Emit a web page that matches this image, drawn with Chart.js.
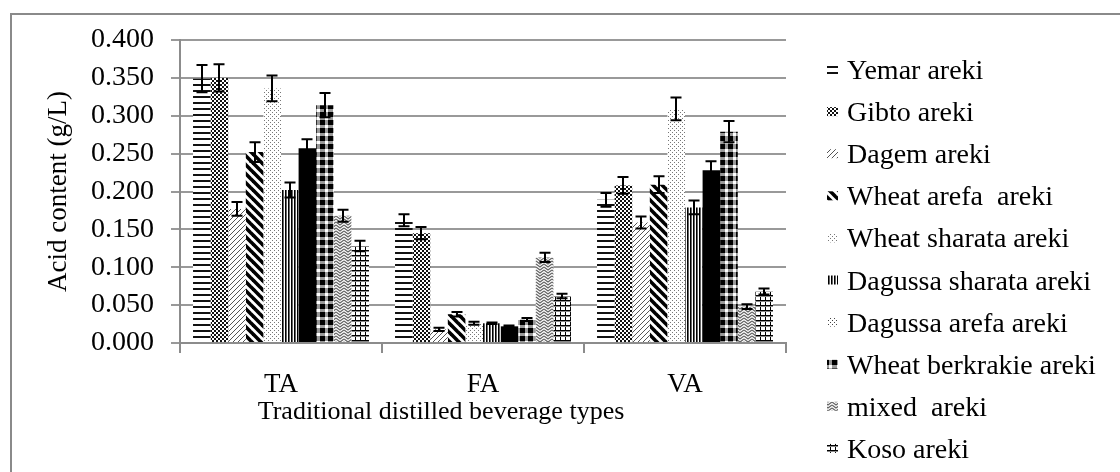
<!DOCTYPE html>
<html>
<head>
<meta charset="utf-8">
<script src="https://cdn.jsdelivr.net/npm/chart.js@4.4.1/dist/chart.umd.min.js"></script>
<style>
  html, body { margin: 0; padding: 0; background: #ffffff; }
  canvas { display: block; }
</style>
</head>
<body>
<canvas id="chart" width="1120" height="472"></canvas>
<script>
// Acid groups on the category axis
const categories = ['TA', 'FA', 'VA'];

// Y axis tick values (g/L)
const yTicks = [0, 0.05, 0.1, 0.15, 0.2, 0.25, 0.3, 0.35, 0.4];

// Beverage names, in legend order
const beverages = [
  'Yemar areki', 'Gibto areki', 'Dagem areki', 'Wheat arefa  areki',
  'Wheat sharata areki', 'Dagussa sharata areki', 'Dagussa arefa areki',
  'Wheat berkrakie areki', 'mixed  areki', 'Koso areki'
];

// Mean acid content per beverage, for TA / FA / VA
const yemar          = [0.349, 0.162, 0.189];
const gibto          = [0.350, 0.145, 0.208];
const dagem          = [0.177, 0.018, 0.159];
const wheatArefa     = [0.252, 0.038, 0.209];
const wheatSharata   = [0.336, 0.026, 0.309];
const dagussaSharata = [0.202, 0.026, 0.179];
const dagussaArefa   = [0.257, 0.022, 0.228];
const wheatBerkrakie = [0.314, 0.031, 0.279];
const mixed          = [0.168, 0.113, 0.048];
const koso           = [0.128, 0.062, 0.068];

// Standard deviations for the error bars
const yemarSd          = [0.018, 0.008, 0.009];
const gibtoSd          = [0.018, 0.008, 0.011];
const dagemSd          = [0.009, 0.002, 0.008];
const wheatArefaSd     = [0.013, 0.003, 0.011];
const wheatSharataSd   = [0.017, 0.002, 0.015];
const dagussaSharataSd = [0.010, 0.001, 0.009];
const dagussaArefaSd   = [0.012, 0.001, 0.012];
const wheatBerkrakieSd = [0.016, 0.002, 0.014];
const mixedSd          = [0.008, 0.006, 0.003];
const kosoSd           = [0.007, 0.003, 0.004];

const means = [yemar, gibto, dagem, wheatArefa, wheatSharata, dagussaSharata,
               dagussaArefa, wheatBerkrakie, mixed, koso];
const sds = [yemarSd, gibtoSd, dagemSd, wheatArefaSd, wheatSharataSd, dagussaSharataSd,
             dagussaArefaSd, wheatBerkrakieSd, mixedSd, kosoSd];

const SERIF = "'Liberation Serif', 'Times New Roman', serif";

// ---- black and white fill patterns ----
function tile(w, h, draw) {
  const c = document.createElement('canvas');
  c.width = w; c.height = h;
  const g = c.getContext('2d');
  g.fillStyle = '#ffffff';
  g.fillRect(0, 0, w, h);
  draw(g, w, h);
  return c;
}
const tiles = [
  // horizontal lines
  tile(6, 6, g => { g.fillStyle = '#111'; g.fillRect(0, 0, 6, 2); }),
  // small checkerboard
  tile(4, 4, g => { g.fillStyle = '#111'; g.fillRect(0, 0, 2, 2); g.fillRect(2, 2, 2, 2); g.fillRect(1, 1, 1, 1); }),
  // light upward diagonal
  tile(5, 5, g => { g.fillStyle = '#555'; for (let i = 0; i < 5; i++) g.fillRect(i, 4 - i, 1, 1); }),
  // wide dark downward diagonal
  tile(9, 9, g => {
    g.strokeStyle = '#000'; g.lineWidth = 3.6;
    for (let k = -9; k <= 9; k += 9) { g.beginPath(); g.moveTo(k - 2, -2); g.lineTo(k + 11, 11); g.stroke(); }
  }),
  // light dots
  tile(4, 4, g => { g.fillStyle = '#777'; g.fillRect(0, 0, 1, 1); g.fillRect(2, 2, 1, 1); }),
  // narrow vertical lines
  tile(3, 3, g => { g.fillStyle = '#000'; g.fillRect(0, 0, 1, 3); g.fillStyle = '#666'; g.fillRect(1, 0, 1, 3); }),
  // solid black
  tile(2, 2, g => { g.fillStyle = '#000'; g.fillRect(0, 0, 2, 2); }),
  // plaid of black squares
  tile(8, 8, g => { g.fillStyle = '#999'; g.fillRect(0, 0, 8, 8); g.fillStyle = '#000'; g.fillRect(0, 0, 5, 5); g.fillStyle = '#fff'; g.fillRect(5, 5, 3, 3); }),
  // zig-zag weave
  tile(8, 6, g => {
    g.strokeStyle = '#666'; g.lineWidth = 1.3;
    for (let y0 = -3; y0 <= 6; y0 += 3) { g.beginPath(); g.moveTo(0, y0); g.lineTo(4, y0 + 3); g.lineTo(8, y0); g.stroke(); }
  }),
  // grid
  tile(5, 5, g => { g.fillStyle = '#000'; g.fillRect(0, 0, 5, 1); g.fillRect(0, 0, 1, 5); g.fillStyle = '#888'; g.fillRect(0, 1, 5, 1); })
];
// legend swatch for the solid-black series shows sparse dots
const sparseDots = tile(4, 4, g => { g.fillStyle = '#444'; g.fillRect(0, 0, 1, 1); g.fillRect(2, 2, 1, 1); });

const ctx = document.getElementById('chart').getContext('2d');
const fills = tiles.map(t => ctx.createPattern(t, 'repeat'));
const legendFills = tiles.map((t, i) => ctx.createPattern(i === 6 ? sparseDots : t, 'repeat'));

const datasets = beverages.map((name, i) => ({
  label: name,
  data: means[i],
  errors: sds[i],
  backgroundColor: fills[i],
  borderWidth: 0,
  categoryPercentage: 0.871,
  barPercentage: 1.0
}));

// outer frame of the chart
const frame = {
  id: 'frame',
  beforeDraw(chart) {
    const c = chart.ctx;
    c.save();
    c.strokeStyle = '#8a8a8a';
    c.lineWidth = 2;
    c.strokeRect(11, 14, 1300, 700);
    c.restore();
  }
};

// error bars (mean +/- sd) on top of every bar
const errorBars = {
  id: 'errorBars',
  afterDatasetsDraw(chart) {
    const c = chart.ctx, ys = chart.scales.y;
    c.save();
    c.strokeStyle = '#000';
    c.lineWidth = 2;
    chart.data.datasets.forEach((ds, i) => {
      chart.getDatasetMeta(i).data.forEach((bar, j) => {
        const v = ds.data[j], e = ds.errors[j];
        const top = ys.getPixelForValue(v + e), bot = ys.getPixelForValue(v - e);
        const x = Math.round(bar.x), half = 5.5;
        c.beginPath();
        c.moveTo(x, top); c.lineTo(x, bot);
        c.moveTo(x - half, top); c.lineTo(x + half, top);
        c.moveTo(x - half, bot); c.lineTo(x + half, bot);
        c.stroke();
      });
    });
    c.restore();
  }
};

// axis titles and the legend column
const annotations = {
  id: 'annotations',
  afterDraw(chart) {
    const c = chart.ctx, a = chart.chartArea;
    c.save();
    c.fillStyle = '#000';
    c.font = '26px ' + SERIF;
    c.textAlign = 'center';
    c.textBaseline = 'middle';
    c.fillText('Traditional distilled beverage types', a.left + 261, 412);
    c.font = '27px ' + SERIF;
    c.translate(a.left - 121, (a.top + a.bottom) / 2);
    c.rotate(-Math.PI / 2);
    c.fillText('Acid content (g/L)', 0, 0);
    c.restore();

    c.save();
    c.font = '28px ' + SERIF;
    c.textAlign = 'left';
    c.textBaseline = 'alphabetic';
    chart.data.datasets.forEach((ds, i) => {
      const base = 79 + i * 42.1;
      c.fillStyle = legendFills[i];
      c.fillRect(827, base - 14, 11, 9);
      c.fillStyle = '#000';
      c.fillText(ds.label, 847, base);
    });
    c.restore();
  }
};

new Chart(ctx, {
  type: 'bar',
  data: { labels: categories, datasets },
  options: {
    responsive: false,
    animation: false,
    layout: { padding: { top: 40, right: 334, left: 0, bottom: 0 } },
    plugins: { legend: { display: false }, tooltip: { enabled: false } },
    scales: {
      x: {
        grid: { display: true, drawOnChartArea: false, offset: true, tickLength: 10, color: '#8c8c8c', lineWidth: 2 },
        border: { color: '#8c8c8c', width: 2 },
        ticks: { font: { family: SERIF, size: 27 }, color: '#000', padding: 16 },
        afterFit(s) { s.height = 129; }
      },
      y: {
        min: 0, max: 0.4,
        afterBuildTicks(s) { s.ticks = yTicks.map(v => ({ value: v })); },
        ticks: { autoSkip: false, padding: 17, font: { family: SERIF, size: 28 }, color: '#000',
                 callback: v => Number(v).toFixed(3) },
        grid: { color: '#999', lineWidth: 2, tickLength: 9 },
        border: { color: '#8c8c8c', width: 2 },
        afterFit(s) { s.width = 180; }
      }
    }
  },
  plugins: [frame, errorBars, annotations]
});
</script>
</body>
</html>
